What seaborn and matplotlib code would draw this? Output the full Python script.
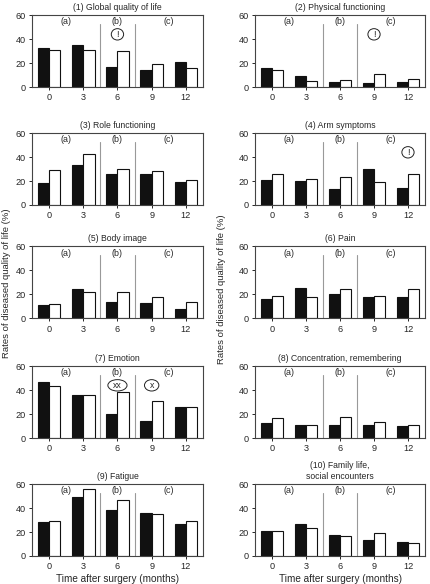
import pandas as pd
import matplotlib
matplotlib.use("Agg")
import matplotlib.pyplot as plt
from matplotlib.patches import Ellipse
import seaborn as sns

# months after surgery and the two groups (black / white bars)
months = ["0", "3", "6", "9", "12"]
groups = ["black", "white"]

titles = [
    "(1) Global quality of life",
    "(2) Physical functioning",
    "(3) Role functioning",
    "(4) Arm symptoms",
    "(5) Body image",
    "(6) Pain",
    "(7) Emotion",
    "(8) Concentration, remembering",
    "(9) Fatigue",
    "(10) Family life,\nsocial encounters",
]

black_vals = [
    [33, 35, 17, 14, 21],
    [16, 9.5, 4.5, 3.5, 4.5],
    [18, 33, 26, 26, 19],
    [21, 20, 13.5, 30, 14.5],
    [11.5, 24.5, 13.5, 13, 7.5],
    [16, 25, 20, 18, 18],
    [47, 35.5, 20, 14, 26],
    [12.5, 10.5, 10.5, 10.5, 10],
    [28, 49, 38.5, 36, 27],
    [21, 26.5, 17.5, 13, 12],
]
white_vals = [
    [31, 31, 30, 19, 15.5],
    [14, 5, 5.5, 11, 6.5],
    [29, 43, 30, 28, 20.5],
    [25.5, 22, 23, 19.5, 26],
    [12, 22, 22, 18, 14],
    [19, 18, 24.5, 18.5, 24.5],
    [43.5, 36, 38.5, 30.5, 26],
    [16.5, 10.5, 17.5, 13.5, 11],
    [29, 56, 47, 35, 29.5],
    [20.5, 23, 16.5, 19.5, 10.5],
]

# period labels and significance marks: (panel index, month index, text)
periods = ["(a)", "(b)", "(c)"]
marks = [(0, 2, "!"), (1, 3, "!"), (3, 4, "!"), (6, 2, "xx"), (6, 3, "x")]

sns.set_style("ticks")
plt.rcParams["font.family"] = ["Liberation Sans", "DejaVu Sans"]
plt.rcParams["axes.edgecolor"] = "#444444"
plt.rcParams["axes.linewidth"] = 0.8

fig = plt.figure(figsize=(4.31, 5.84), dpi=100)

lefts = [0.074, 0.592]
widths = [0.397, 0.394]
bottoms = [0.851, 0.649, 0.455, 0.250, 0.048]
height = 0.123

for i, title in enumerate(titles):
    row, col = divmod(i, 2)
    ax = fig.add_axes([lefts[col], bottoms[row], widths[col], height])
    df = pd.DataFrame({
        "month": months * 2,
        "group": ["black"] * 5 + ["white"] * 5,
        "rate": black_vals[i] + white_vals[i],
    })
    sns.barplot(data=df, x="month", y="rate", hue="group", order=months,
                hue_order=groups, palette={"black": "#111111", "white": "white"},
                edgecolor="#111111", linewidth=0.8, width=0.66, ax=ax,
                legend=False)
    ax.set_ylim(0, 60)
    ax.set_xlim(-0.5, 4.5)
    ax.set_yticks([0, 20, 40, 60])
    ax.set_xlabel("")
    ax.set_ylabel("")
    ax.tick_params(labelsize=6.6, length=2.5, width=0.7, pad=2)
    for s in ax.spines.values():
        s.set_visible(True)
    ax.set_title(title, fontsize=6.2, pad=4, linespacing=1.25)

    for xs in (1.5, 2.5):
        ax.plot([xs, xs], [0, 53], color="#999999", lw=0.8)
    for px, lab in zip((0.5, 2.0, 3.5), periods):
        ax.text(px, 54.5, lab, ha="center", va="center", fontsize=6.4)

    for pi, mi, txt in marks:
        if pi == i:
            w = {"!": 0.36, "x": 0.42, "xx": 0.56}[txt]
            ax.add_patch(Ellipse((mi, 44), w, 9.5, fc="white",
                                 ec="#222222", lw=0.7, zorder=3))
            ax.text(mi, 44, txt, ha="center", va="center", fontsize=6.3,
                    zorder=4)

    if row == 4:
        ax.set_xlabel("Time after surgery (months)", fontsize=7.2, labelpad=2)

fig.text(0.014, 0.515, "Rates of diseased quality of life (%)", rotation=90,
         ha="center", va="center", fontsize=6.8)
fig.text(0.515, 0.505, "Rates of diseased quality of life (%)", rotation=90,
         ha="center", va="center", fontsize=6.8)

fig.savefig("out.png", dpi=100)
